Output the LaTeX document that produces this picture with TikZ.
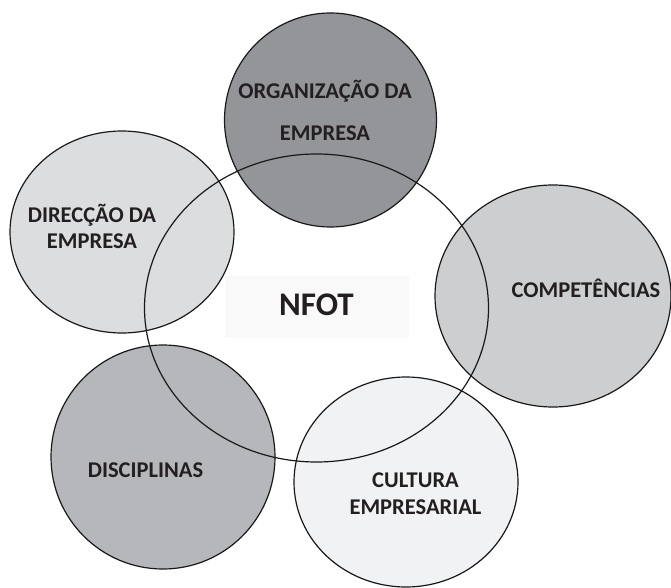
\documentclass[tikz,border=0pt]{standalone}
\usepackage{fontspec}
\setmainfont{Carlito}
\usetikzlibrary{shapes.geometric}
\definecolor{txt}{HTML}{231F20}
\definecolor{cOrg}{HTML}{939598}
\definecolor{cDir}{HTML}{DCDDDF}
\definecolor{cComp}{HTML}{CDCECF}
\definecolor{cDisc}{HTML}{B6B7BA}
\definecolor{cCult}{HTML}{F1F2F3}
\definecolor{cBox}{HTML}{F9F9F9}
\begin{document}
\begin{tikzpicture}[x=1pt,y=-1pt,
  ring/.style={ellipse, draw=black!90, line width=1.2pt, inner sep=0pt},
  lbl/.style={font=\fontsize{22.5}{28}\selectfont\bfseries, text=txt, align=center, inner sep=0pt}]
\useasboundingbox (0,0) rectangle (671,588);
% satellites
\node[ring, fill=cOrg,  minimum width=212pt, minimum height=214pt] (org)  at (330.5,120) {};
\node[ring, fill=cDir,  minimum width=224pt, minimum height=202pt] (dir)  at (122,232) {};
\node[ring, fill=cComp, minimum width=236pt, minimum height=222pt] (comp) at (553,296) {};
\node[ring, fill=cDisc, minimum width=224pt, minimum height=224pt] (disc) at (163,457) {};
\node[ring, fill=cCult, minimum width=224pt, minimum height=210pt] (cult) at (406,482) {};
% central ring
\node[ring, minimum width=344pt, minimum height=308pt] (nfot) at (316.5,308) {};
% NFOT box
\node[fill=cBox, minimum width=184pt, minimum height=62pt, inner sep=0pt] (box) at (316.5,306.5) {};
\node[lbl, font=\fontsize{33}{38}\selectfont\bfseries] (nfott) at (316.5,305) {NFOT};
% labels
\node[lbl, font=\fontsize{22.5}{42}\selectfont\bfseries] (orgt) at (325,110) {ORGANIZAÇÃO DA\\EMPRESA};
\node[lbl, font=\fontsize{22.5}{26}\selectfont\bfseries] (dirt)  at (92,226) {DIRECÇÃO DA\\EMPRESA};
\node[lbl] (compt) at (586,288) {COMPETÊNCIAS};
\node[lbl] (disct) at (145.5,470) {DISCIPLINAS};
\node[lbl, font=\fontsize{22.5}{27}\selectfont\bfseries] (cultt) at (415.5,494) {CULTURA\\EMPRESARIAL};
\end{tikzpicture}
\end{document}
